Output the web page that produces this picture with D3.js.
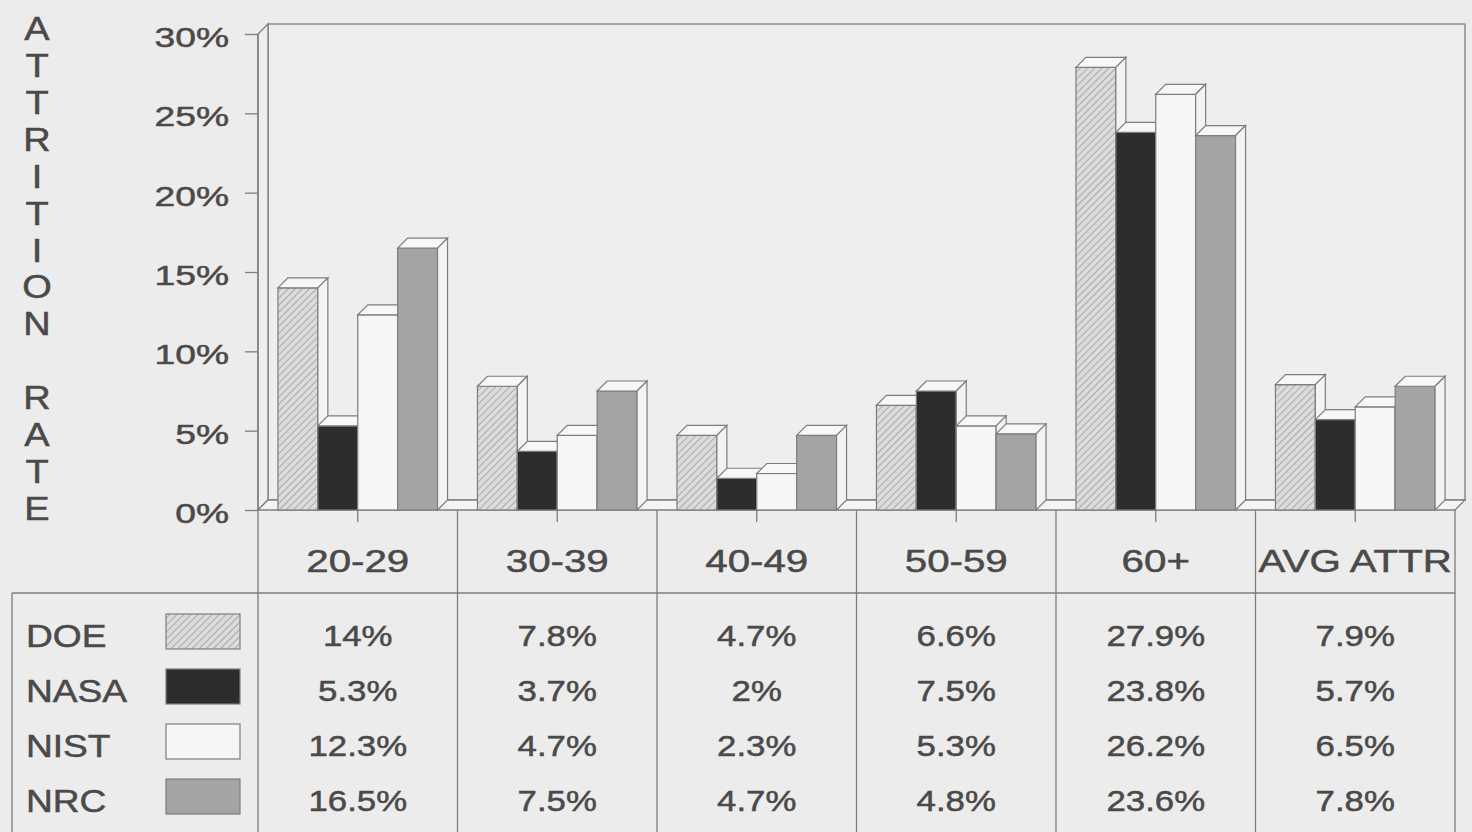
<!DOCTYPE html>
<html>
<head>
<meta charset="utf-8">
<script src="https://cdn.jsdelivr.net/npm/d3@7"></script>
<style>
  body { margin: 0; background: #ececec; }
  svg { display: block; font-family: "Liberation Sans", Arial, sans-serif; }
  text { stroke: #4a4a4a; stroke-width: 0.5px; }
</style>
</head>
<body>
<div id="chart"></div>
<script>
var width = 1472, height = 832;

// data
var categories = ['20-29', '30-39', '40-49', '50-59', '60+', 'AVG ATTR'];
var series = ['DOE', 'NASA', 'NIST', 'NRC'];
var doe  = [14, 7.8, 4.7, 6.6, 27.9, 7.9];
var nasa = [5.3, 3.7, 2, 7.5, 23.8, 5.7];
var nist = [12.3, 4.7, 2.3, 5.3, 26.2, 6.5];
var nrc  = [16.5, 7.5, 4.7, 4.8, 23.6, 7.8];
var yTicks = [0, 5, 10, 15, 20, 25, 30];
var axisTitle = 'ATTRITION RATE';

var values = {DOE: doe, NASA: nasa, NIST: nist, NRC: nrc};

var textColor = '#4a4a4a';
var lineColor = '#7d7d7d';
var depth = 10;   // 3d offset of the bars and the walls

var svg = d3.select('#chart').append('svg')
    .attr('width', width)
    .attr('height', height);

var defs = svg.append('defs');
var hatch = defs.append('pattern')
    .attr('id', 'hatch')
    .attr('patternUnits', 'userSpaceOnUse')
    .attr('width', 5).attr('height', 5)
    .attr('patternTransform', 'rotate(45)');
hatch.append('rect').attr('width', 5).attr('height', 5).attr('fill', '#dcdcdc');
hatch.append('line').attr('x1', 0).attr('y1', 0).attr('x2', 0).attr('y2', 5)
    .attr('stroke', '#9c9c9c').attr('stroke-width', 1.6);

var fills = {DOE: 'url(#hatch)', NASA: '#2d2d2d', NIST: '#f6f6f6', NRC: '#a4a4a4'};

// scales
var x0 = d3.scaleBand().domain(categories).range([258, 1455]);
var x1 = d3.scaleBand().domain(series).range([0, x0.bandwidth()]).paddingOuter(0.5);
var y = d3.scaleLinear().domain([0, 30]).range([510, 34]);

var xLeft = x0.range()[0], xRight = x0.range()[1], yBase = y(0), yTop = y(30);

// back wall, left wall and floor
svg.append('rect')
    .attr('x', xLeft + depth).attr('y', yTop - depth)
    .attr('width', xRight - xLeft).attr('height', yBase - yTop)
    .attr('fill', '#eeeeee').attr('stroke', lineColor).attr('stroke-width', 1.3);
svg.append('path')
    .attr('d', 'M' + xLeft + ',' + yBase + 'L' + xLeft + ',' + yTop + 'L' + (xLeft + depth) + ',' + (yTop - depth) +
               'L' + (xLeft + depth) + ',' + (yBase - depth) + 'Z')
    .attr('fill', '#eeeeee').attr('stroke', lineColor).attr('stroke-width', 1.3);
svg.append('path')
    .attr('d', 'M' + xLeft + ',' + yBase + 'L' + xRight + ',' + yBase + 'L' + (xRight + depth) + ',' + (yBase - depth) +
               'L' + (xLeft + depth) + ',' + (yBase - depth) + 'Z')
    .attr('fill', '#f4f4f4').attr('stroke', lineColor).attr('stroke-width', 1.3);

// bars, drawn left to right so the next bar hides the side face of the previous one
var groups = svg.selectAll('g.group')
    .data(categories)
    .enter().append('g')
    .attr('class', 'group')
    .attr('transform', function(d) { return 'translate(' + x0(d) + ',0)'; });

var bars = groups.selectAll('g.bar')
    .data(function(c, i) { return series.map(function(s) { return {s: s, v: values[s][i]}; }); })
    .enter().append('g')
    .attr('class', 'bar');

bars.append('rect')
    .attr('x', function(d) { return x1(d.s); })
    .attr('y', function(d) { return y(d.v); })
    .attr('width', x1.bandwidth())
    .attr('height', function(d) { return yBase - y(d.v); })
    .attr('fill', function(d) { return fills[d.s]; })
    .attr('stroke', lineColor).attr('stroke-width', 1.2);

bars.append('path')   // top face
    .attr('d', function(d) {
        var xa = x1(d.s), xb = xa + x1.bandwidth(), yt = y(d.v);
        return 'M' + xa + ',' + yt + 'L' + (xa + depth) + ',' + (yt - depth) +
               'L' + (xb + depth) + ',' + (yt - depth) + 'L' + xb + ',' + yt + 'Z';
    })
    .attr('fill', '#f7f7f7').attr('stroke', lineColor).attr('stroke-width', 1.2);

bars.append('path')   // side face
    .attr('d', function(d) {
        var xb = x1(d.s) + x1.bandwidth(), yt = y(d.v);
        return 'M' + xb + ',' + yt + 'L' + (xb + depth) + ',' + (yt - depth) +
               'L' + (xb + depth) + ',' + (yBase - depth) + 'L' + xb + ',' + yBase + 'Z';
    })
    .attr('fill', '#f3f3f3').attr('stroke', lineColor).attr('stroke-width', 1.2);

// y axis
var yAxis = svg.append('g')
    .attr('transform', 'translate(' + xLeft + ',0)')
    .call(d3.axisLeft(y).tickValues(yTicks).tickSize(13)
        .tickFormat(function(d) { return d + '%'; }));
yAxis.select('.domain').attr('stroke', lineColor).attr('stroke-width', 1.3)
    .attr('d', 'M0,' + yTop + 'V' + yBase);
yAxis.selectAll('.tick line').attr('stroke', lineColor).attr('stroke-width', 1.3);
yAxis.selectAll('.tick text')
    .attr('x', 0).attr('dy', '0.45em')
    .attr('transform', 'translate(-29,0) scale(1.33,1)')
    .attr('fill', textColor)
    .style('font-size', '28px')
    .style('font-family', '"Liberation Sans", Arial, sans-serif');

// x axis: ticks at the band centres, labels in the table header
var xAxis = svg.append('g')
    .attr('transform', 'translate(0,' + yBase + ')')
    .call(d3.axisBottom(x0).tickSize(12).tickPadding(27));
xAxis.select('.domain').remove();
xAxis.selectAll('.tick line').attr('stroke', lineColor).attr('stroke-width', 1.3);
xAxis.selectAll('.tick text')
    .attr('transform', 'scale(1.26,1)')
    .attr('fill', textColor)
    .style('font-size', '32px')
    .style('font-family', '"Liberation Sans", Arial, sans-serif');

// vertical axis title, one letter per line
var titleY = d3.scalePoint().domain(d3.range(axisTitle.length)).range([28, 508]);
svg.append('g').selectAll('text')
    .data(axisTitle.split(''))
    .enter().append('text')
    .attr('transform', function(d, i) { return 'translate(37,' + (titleY(i) + 12) + ') scale(1.15,1)'; })
    .attr('text-anchor', 'middle')
    .attr('fill', textColor)
    .style('font-size', '33px')
    .text(function(d) { return d; });

// data table
var rowY = d3.scaleBand().domain(series).range([607.5, 827.5]);
var table = svg.append('g').attr('stroke', lineColor).attr('stroke-width', 1.3);
var colEdges = categories.map(function(c) { return x0(c); }).concat([xRight]);
table.selectAll('line.col')
    .data(colEdges)
    .enter().append('line')
    .attr('class', 'col')
    .attr('x1', function(d) { return d; }).attr('x2', function(d) { return d; })
    .attr('y1', yBase).attr('y2', height);
table.append('line').attr('x1', 12).attr('x2', xRight).attr('y1', 593).attr('y2', 593);
table.append('line').attr('x1', 12).attr('x2', 12).attr('y1', 593).attr('y2', height);

var rows = svg.selectAll('g.row')
    .data(series)
    .enter().append('g')
    .attr('class', 'row')
    .attr('transform', function(d) { return 'translate(0,' + (rowY(d) + rowY.bandwidth() / 2) + ')'; });

rows.append('text')
    .attr('transform', 'translate(26,12) scale(1.16,1)')
    .attr('fill', textColor)
    .style('font-size', '32px')
    .text(function(d) { return d; });

rows.append('rect')
    .attr('x', 166).attr('y', -21)
    .attr('width', 74).attr('height', 35)
    .attr('fill', function(d) { return fills[d]; })
    .attr('stroke', lineColor).attr('stroke-width', 1.2);

rows.selectAll('text.val')
    .data(function(s) { return values[s].map(function(v, i) { return {c: categories[i], v: v}; }); })
    .enter().append('text')
    .attr('class', 'val')
    .attr('transform', function(d) { return 'translate(' + (x0(d.c) + x0.bandwidth() / 2) + ',11) scale(1.16,1)'; })
    .attr('text-anchor', 'middle')
    .attr('fill', textColor)
    .style('font-size', '30px')
    .text(function(d) { return d.v + '%'; });
</script>
</body>
</html>
